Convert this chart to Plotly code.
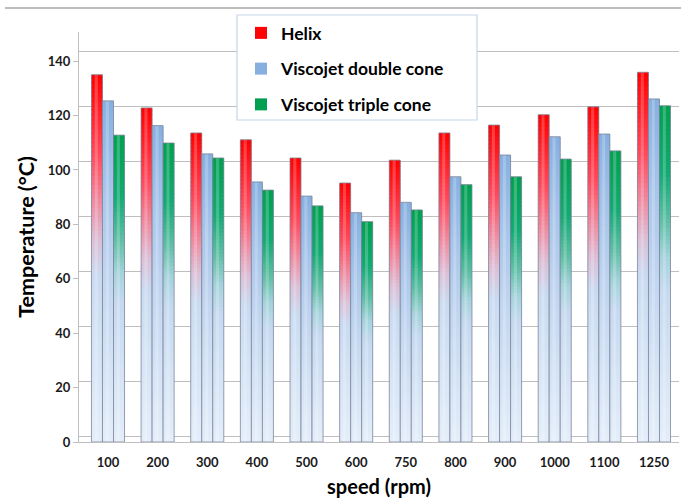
import plotly.graph_objects as go

# ---------------- data ----------------
speeds = ["100", "200", "300", "400", "500", "600", "750", "800", "900", "1000", "1100", "1250"]
helix = [135.0, 122.8, 113.6, 111.1, 104.4, 95.2, 103.6, 113.6, 116.5, 120.3, 123.2, 135.9]
double_cone = [125.4, 116.3, 105.9, 95.6, 90.4, 84.3, 88.1, 97.5, 105.5, 112.2, 113.2, 126.1]
triple_cone = [112.8, 109.9, 104.4, 92.6, 86.8, 81.0, 85.3, 94.6, 97.5, 104.0, 107.0, 123.6]
series_names = ["Helix", "Viscojet double cone", "Viscojet triple cone"]
y_ticks = [0, 20, 40, 60, 80, 100, 120, 140]

# ---------------- styling ----------------
gradients = [
    [(0.0, "#e4eefa"), (0.45, "#c9dbf1"), (0.55, "#dcbfd6"), (0.65, "#ee8ca2"), (0.78, "#ff4a5c"), (1.0, "#ff0000")],
    [(0.0, "#e4eefa"), (0.45, "#c4d7f0"), (0.75, "#a6c4ea"), (1.0, "#86afe0")],
    [(0.0, "#e4eefa"), (0.45, "#c6d9f0"), (0.55, "#a5d3dc"), (0.65, "#62c0a8"), (0.8, "#12aa72"), (1.0, "#00a050")],
]
offsets = [-0.333, -0.111, 0.111]
bar_w = 0.222
N_BANDS = 80


def hex2rgb(h):
    h = h.lstrip("#")
    return tuple(int(h[i:i + 2], 16) for i in (0, 2, 4))


def grad_color(stops, f):
    for (f0, c0), (f1, c1) in zip(stops[:-1], stops[1:]):
        if f0 <= f <= f1:
            t = 0 if f1 == f0 else (f - f0) / (f1 - f0)
            a, b = hex2rgb(c0), hex2rgb(c1)
            r = [round(a[i] + (b[i] - a[i]) * t) for i in range(3)]
            return f"rgb({r[0]},{r[1]},{r[2]})"
    return stops[-1][1]


fig = go.Figure()
all_series = [helix, double_cone, triple_cone]
for s, (name, vals) in enumerate(zip(series_names, all_series)):
    for k in range(N_BANDS):
        f_mid = (k + 0.5) / N_BANDS
        top_band = (k == N_BANDS - 1)
        fig.add_trace(go.Bar(
            x=speeds,
            base=[v * k / N_BANDS for v in vals],
            y=[v / N_BANDS * (1.0 if top_band else 1.6) for v in vals],
            width=bar_w, offset=offsets[s],
            marker=dict(color=grad_color(gradients[s], f_mid), line=dict(width=0)),
            name=name, legendgroup=name,
            showlegend=top_band,
            hoverinfo="skip",
        ))
    # cylinder highlight strip
    fig.add_trace(go.Bar(
        x=speeds, y=vals, width=bar_w * 0.28, offset=offsets[s] + bar_w * 0.3,
        marker=dict(color="rgba(255,255,255,0.22)", line=dict(width=0)),
        showlegend=False, hoverinfo="skip",
    ))
    # cylinder outline
    fig.add_trace(go.Bar(
        x=speeds, y=vals, width=bar_w, offset=offsets[s],
        marker=dict(color="rgba(0,0,0,0)", line=dict(color="rgba(120,130,150,0.75)", width=1)),
        showlegend=False, hoverinfo="skip",
    ))

# invisible trace for the back-wall grid axis
fig.add_trace(go.Scatter(x=[speeds[0]], y=[None], yaxis="y2", showlegend=False, hoverinfo="skip"))

PX_L, PX_R, PX_T, PX_B = 79, 2, 32, 57
font_fam = "Lato"

fig.update_layout(
    width=681, height=499,
    margin=dict(l=PX_L, r=PX_R, t=PX_T, b=PX_B),
    paper_bgcolor="white", plot_bgcolor="white",
    barmode="overlay",
    font=dict(family=font_fam, color="#000000"),
    xaxis=dict(
        type="category", range=[-0.584, 11.504],
        showgrid=False, showline=True, linecolor="#bfbfbf", linewidth=1,
        tickfont=dict(size=13, weight="bold", color="#1a1a1a"),
        ticklabelstandoff=8,
        title=dict(text="speed (rpm)", font=dict(size=20, weight="bold"), standoff=11),
        ticks="",
    ),
    yaxis=dict(
        range=[0, 150.7], tickvals=y_ticks,
        showgrid=False, zeroline=False,
        showline=True, linecolor="#bfbfbf", linewidth=1,
        ticks="outside", ticklen=5, tickcolor="#bfbfbf",
        tickfont=dict(size=13, weight="bold", color="#1a1a1a"),
        title=dict(text="Temperature (°C)", font=dict(size=21.5, weight="bold"), standoff=7),
    ),
    yaxis2=dict(
        overlaying="y", side="left", range=[-1.93, 147.2], tickvals=y_ticks,
        showgrid=True, gridcolor="#bfbfbf", gridwidth=1, zeroline=False,
        showticklabels=False, ticks="", showline=False,
    ),
    legend=dict(
        x=(241 - PX_L) / 600, xanchor="left",
        y=(442 - 15) / 410, yanchor="top",
        bgcolor="rgba(0,0,0,0)", borderwidth=0,
        font=dict(size=17.5, weight="bold", family=font_fam),
        tracegroupgap=10, traceorder="grouped",
    ),
    shapes=[
        dict(type="rect", xref="paper", yref="paper",
             x0=(237 - PX_L) / 600, x1=(477 - PX_L) / 600,
             y0=(442 - 120) / 410, y1=(442 - 15) / 410,
             fillcolor="white", line=dict(color="#c5d6ea", width=1.2), layer="above"),
        dict(type="line", xref="paper", yref="paper",
             x0=(5 - PX_L) / 600, x1=1.01, y0=(442 - 8) / 410, y1=(442 - 8) / 410,
             line=dict(color="#a6a6a6", width=1.5)),
    ],
)

fig.write_html("out.html")
